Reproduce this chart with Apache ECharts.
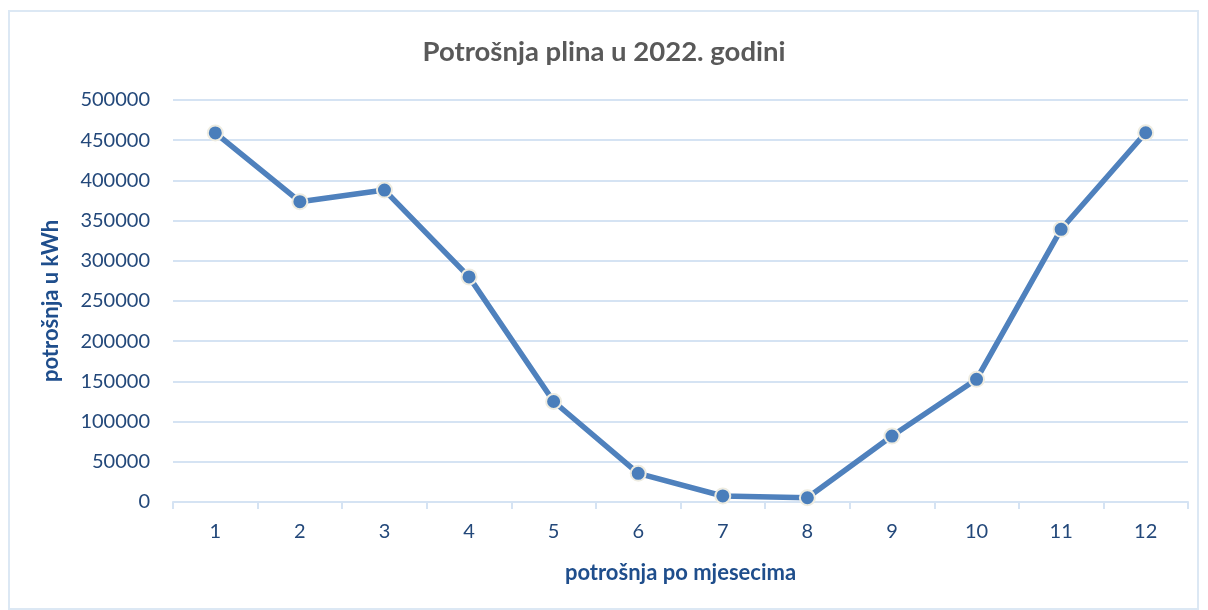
<!DOCTYPE html>
<html><head><meta charset="utf-8">
<script src="https://cdn.jsdelivr.net/npm/echarts@6/dist/echarts.min.js"></script>
<style>html,body{margin:0;padding:0;background:#fff}#c{width:1208px;height:610px}
#frame{position:absolute;left:8px;top:10px;width:1191px;height:600px;border:2px solid #dce8f4;box-sizing:border-box;pointer-events:none}</style>
</head><body><div id="c"></div><div id="frame"></div>
<script>
const months = ['1','2','3','4','5','6','7','8','9','10','11','12'];
const consumption = [459000, 373500, 388000, 280000, 125000, 35700, 7500, 5300, 82000, 152600, 339200, 459300];
const titleText = 'Potrošnja plina u 2022. godini';
const yName = 'potrošnja u kWh';
const xName = 'potrošnja po mjesecima';

const font = 'Lato, "Open Sans", sans-serif';
const chart = echarts.init(document.getElementById('c'), null, {renderer: 'canvas'});
chart.setOption({
  animation: false,
  title: {text: titleText, left: 'center', top: 33, textStyle: {fontFamily: font, fontSize: 27.5, fontWeight: 'bold', color: '#595959'}},
  grid: {left: 173, right: 20, top: 100, bottom: 108},
  xAxis: {
    type: 'category', data: months, boundaryGap: true,
    name: xName, nameLocation: 'middle', nameGap: 60,
    nameTextStyle: {fontFamily: font, fontSize: 22, fontWeight: 'bold', color: '#1f4e8c'},
    axisLine: {lineStyle: {color: '#d5e3f3', width: 2}},
    axisTick: {show: true, length: 7, lineStyle: {color: '#d5e3f3', width: 2}},
    axisLabel: {fontFamily: font, fontSize: 20, color: '#23487a', margin: 20}
  },
  yAxis: {
    type: 'value', min: 0, max: 500000, interval: 50000,
    name: yName, nameLocation: 'middle', nameGap: 111, nameRotate: 90,
    nameTextStyle: {fontFamily: font, fontSize: 22, fontWeight: 'bold', color: '#1f4e8c'},
    axisLine: {show: false}, axisTick: {show: false},
    axisLabel: {fontFamily: font, fontSize: 20, color: '#23487a', margin: 23, formatter: v => String(v)},
    splitLine: {lineStyle: {color: '#d5e3f3', width: 2}}
  },
  series: [{
    type: 'line', data: consumption,
    symbol: 'circle', symbolSize: 15,
    lineStyle: {color: '#4f81bd', width: 5.5},
    itemStyle: {color: '#4a7ebb', borderColor: '#eeece1', borderWidth: 2}
  }]
});
</script></body></html>
